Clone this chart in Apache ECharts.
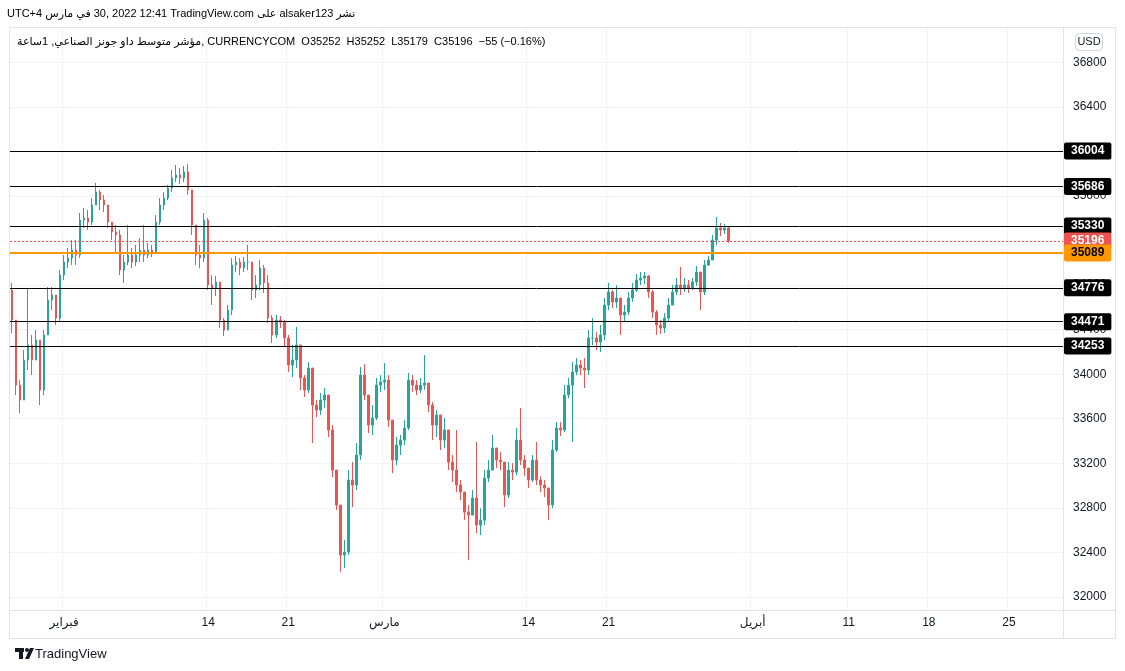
<!DOCTYPE html>
<html>
<head>
<meta charset="utf-8">
<script src="https://cdn.jsdelivr.net/npm/echarts@6/dist/echarts.min.js"></script>
<style>
  html, body { margin: 0; padding: 0; background: #fff; }
  #chart { width: 1125px; height: 671px; }
</style>
</head>
<body>
<div id="chart"></div>
<script>
const firstOpen = 34756
const closes = [
  34486, 33902, 33768, 34127, 34262, 34127, 34307, 33858, 34352, 34666,
  34711, 34504, 34890, 35007, 35043, 35115, 35070, 35384, 35402, 35366,
  35519, 35636, 35564, 35519, 35366, 35277, 35250, 34935, 35007, 35070,
  35007, 35070, 35115, 35070, 35115, 35097, 35366, 35519, 35582, 35672,
  35762, 35789, 35762, 35816, 35654, 35339, 35070, 35043, 35384, 34801,
  34774, 34828, 34486, 34396, 34576, 34980, 35007, 34953, 35007, 35007,
  34756, 34801, 34953, 34819, 34504, 34352, 34486, 34468, 34325, 34082,
  34127, 34262, 33966, 33858, 34055, 33723, 33678, 33768, 33813, 33499,
  33139, 32825, 32376, 32403, 33050, 33005, 33274, 33992, 33813, 33543,
  33606, 33902, 33930, 33947, 33588, 33229, 33364, 33409, 33517, 33947,
  33902, 33858, 33902, 33921, 33723, 33543, 33633, 33409, 33499, 33211,
  33139, 33005, 32942, 32762, 32735, 32888, 32646, 32690, 33067, 33139,
  33337, 33229, 33211, 32915, 33139, 33121, 33409, 33229, 33157, 33050,
  33229, 33050, 33005, 32978, 32825, 33319, 33517, 33499, 33813, 33902,
  34020, 34082, 34055, 34037, 34325, 34325, 34289, 34352, 34621, 34738,
  34648, 34684, 34531, 34558, 34684, 34756, 34846, 34864, 34882, 34738,
  34558, 34441, 34415, 34504, 34621, 34738, 34801, 34774, 34801, 34774,
  34828, 34917, 34738, 34980, 35025, 35205, 35313, 35295, 35313, 35196
]
const highs = [
  34819, 34396, 33947, 34217, 34774, 34352, 34396, 34262, 34396, 34783,
  34783, 34711, 34935, 35070, 35133, 35205, 35205, 35447, 35492, 35474,
  35582, 35717, 35654, 35609, 35519, 35366, 35339, 35295, 35070, 35339,
  35133, 35160, 35223, 35339, 35178, 35160, 35429, 35582, 35636, 35699,
  35833, 35878, 35851, 35869, 35887, 35654, 35339, 35160, 35447, 35402,
  34890, 34882, 34801, 34504, 34621, 35043, 35061, 35043, 35052, 35160,
  35007, 34890, 35025, 34980, 34890, 34531, 34531, 34522, 34486, 34352,
  34262, 34424, 34262, 33992, 34109, 34037, 33768, 33831, 33876, 33813,
  33543, 33139, 32825, 32511, 33139, 33211, 33382, 34064, 34091, 33813,
  33723, 33966, 33992, 34100, 33992, 33588, 33436, 33454, 33588, 34011,
  33992, 33947, 33966, 34172, 33902, 33750, 33678, 33633, 33606, 33499,
  33274, 33499, 33050, 32915, 32825, 32960, 33391, 32798, 33139, 33229,
  33454, 33337, 33301, 33211, 33211, 33202, 33517, 33696, 33274, 33157,
  33274, 33391, 33085, 33050, 32978, 33409, 33570, 33570, 33902, 33966,
  34109, 34145, 34127, 34145, 34396, 34504, 34378, 34441, 34684, 34819,
  34756, 34801, 34684, 34621, 34738, 34819, 34899, 34917, 34917, 34890,
  34756, 34576, 34486, 34549, 34684, 34801, 34864, 34962, 34864, 34846,
  34864, 34971, 34917, 35025, 35061, 35250, 35411, 35357, 35348, 35330
]
const lows = [
  34370, 33813, 33651, 33768, 34037, 33992, 34127, 33723, 33813, 34352,
  34576, 34441, 34468, 34846, 34953, 34980, 34980, 35043, 35313, 35295,
  35339, 35519, 35474, 35456, 35313, 35205, 35088, 34890, 34819, 34980,
  34953, 34971, 35007, 35007, 35043, 35052, 35079, 35339, 35474, 35564,
  35636, 35726, 35708, 35726, 35609, 35250, 34980, 34953, 35007, 34756,
  34621, 34702, 34415, 34343, 34396, 34531, 34917, 34890, 34917, 34935,
  34666, 34684, 34756, 34729, 34459, 34280, 34325, 34415, 34244, 34020,
  33974, 34055, 33858, 33795, 33831, 33382, 33615, 33633, 33696, 33436,
  33076, 32780, 32223, 32259, 32376, 32807, 32960, 33229, 33768, 33472,
  33454, 33588, 33840, 33858, 33526, 33112, 33184, 33274, 33364, 33499,
  33840, 33813, 33831, 33858, 33660, 33409, 33436, 33319, 33337, 33139,
  33032, 32942, 32870, 32690, 32331, 32735, 32574, 32556, 32646, 33032,
  33139, 33157, 33139, 32807, 32888, 33050, 33094, 33184, 33085, 32978,
  33032, 33005, 32942, 32897, 32690, 32798, 33301, 33445, 33481, 33786,
  33391, 33992, 33992, 33876, 33992, 34262, 34217, 34199, 34307, 34576,
  34594, 34594, 34352, 34468, 34531, 34648, 34738, 34801, 34810, 34684,
  34504, 34352, 34361, 34370, 34468, 34621, 34711, 34711, 34738, 34729,
  34756, 34792, 34576, 34711, 34971, 35043, 35160, 35241, 35259, 35179
]

const priceTicks = [32000, 32400, 32800, 33200, 33600, 34000, 34400, 34800, 35200, 35600, 36000, 36400, 36800]
const levels = [36004, 35686, 35330, 34776, 34471, 34253]
const orangeLevel = 35089
const lastPrice = 35196

const tickDates = ['2022-02-01', '2022-02-14', '2022-02-21', '2022-03-01', '2022-03-14', '2022-03-21', '2022-04-01', '2022-04-11', '2022-04-18', '2022-04-25']
const tickTexts = ['فبراير', '14', '21', 'مارس', '14', '21', 'أبريل', '11', '18', '25']

// trading-day calendar (weekends skipped), 4 slots a day
const slots = []
for (let t = Date.UTC(2022, 0, 26); t <= Date.UTC(2022, 3, 29); t += 864e5) {
  const d = new Date(t)
  if (d.getUTCDay() === 0 || d.getUTCDay() === 6) continue
  const s = d.toISOString().slice(0, 10)
  for (let k = 0; k < 4; k++) slots.push(s + ' ' + k)
}
const categories = slots.slice(3, 266)
const tickMap = {}
tickDates.forEach((d, i) => { tickMap[d + ' 0'] = tickTexts[i] })

const candles = closes.map((c, i) => {
  const o = i ? closes[i - 1] : firstOpen
  return [o, c, Math.min(lows[i], o, c), Math.max(highs[i], o, c)]
})

const FONT = 'Liberation Sans, DejaVu Sans, sans-serif'
const INK = '#131722'
const RED = '#ef5350'
const GREEN = '#26a69a'

const levelLabel = (bg, fg) => ({
  show: true,
  position: 'end',
  distance: 1,
  formatter: p => String(p.value),
  backgroundColor: bg,
  color: fg,
  fontFamily: FONT,
  fontSize: 12,
  fontWeight: 'bold',
  padding: [3, 7, 2, 7],
  borderRadius: 2
})

const lineData = levels.map(v => ({
  yAxis: v,
  lineStyle: { color: '#000', width: 1, type: 'solid' },
  label: levelLabel('#000', '#fff')
}))
lineData.push({
  yAxis: lastPrice,
  lineStyle: { color: RED, width: 1, type: [2, 2] },
  label: levelLabel(RED, '#fff')
})
lineData.push({
  yAxis: orangeLevel,
  lineStyle: { color: '#ff9800', width: 2, type: 'solid' },
  label: levelLabel('#ff9800', '#000')
})

const chart = echarts.init(document.getElementById('chart'))
const option = {
  animation: false,
  backgroundColor: '#fff',
  grid: { left: 10, right: 62, top: 28, bottom: 61 },
  xAxis: {
    type: 'category',
    data: categories,
    boundaryGap: true,
    axisLine: { show: false },
    axisTick: { show: false },
    axisLabel: {
      interval: 0,
      margin: 7,
      color: INK,
      fontFamily: FONT,
      fontSize: 12,
      formatter: v => tickMap[v] || ''
    },
    splitLine: {
      show: true,
      interval: (i, v) => !!tickMap[v],
      lineStyle: { color: '#f0f3fa', width: 1 }
    }
  },
  yAxis: {
    type: 'value',
    position: 'right',
    min: 31883,
    max: 37108,
    axisLine: { show: false },
    axisTick: { show: false, customValues: priceTicks },
    axisLabel: {
      customValues: priceTicks,
      margin: 10,
      color: INK,
      fontFamily: FONT,
      fontSize: 12,
      formatter: v => String(v)
    },
    splitLine: { show: true, lineStyle: { color: '#f0f3fa', width: 1 } }
  },
  series: [
    {
      type: 'candlestick',
      data: candles,
      barWidth: 2,
      itemStyle: {
        color: GREEN,
        color0: RED,
        borderColor: GREEN,
        borderColor0: RED,
        borderWidth: 1
      },
      markLine: {
        silent: true,
        symbol: 'none',
        animation: false,
        data: lineData
      }
    }
  ],
  graphic: [
    {
      type: 'rect', silent: true, z: 10,
      shape: { x: 9.5, y: 27.5, width: 1106, height: 611 },
      style: { fill: 'none', stroke: '#e0e3eb', lineWidth: 1 }
    },
    {
      type: 'line', silent: true, z: 10,
      shape: { x1: 1063.5, y1: 27.5, x2: 1063.5, y2: 638.5 },
      style: { stroke: '#e0e3eb', lineWidth: 1 }
    },
    {
      type: 'line', silent: true, z: 10,
      shape: { x1: 9.5, y1: 610.5, x2: 1115.5, y2: 610.5 },
      style: { stroke: '#e0e3eb', lineWidth: 1 }
    },
    {
      type: 'rect', silent: true, z: 10,
      shape: { x: 1075.5, y: 33.5, width: 27, height: 17, r: 4 },
      style: { fill: '#fff', stroke: '#d1d4dc', lineWidth: 1 }
    },
    {
      type: 'text', silent: true, z: 11,
      x: 1089, y: 42,
      style: { text: 'USD', fill: INK, font: '11px ' + FONT, textAlign: 'center', textVerticalAlign: 'middle' }
    },
    {
      type: 'text', silent: true, z: 11,
      x: 7, y: 14,
      style: {
        text: '{a|UTC+4 }{b|في مارس}{a| 30, 2022 12:41 TradingView.com }{c|على}{a| alsaker123 }{d|نشر}',
        textVerticalAlign: 'middle',
        rich: {
          a: { fontFamily: FONT, fontSize: 11, color: INK },
          b: { fontFamily: FONT, fontSize: 11, color: INK },
          c: { fontFamily: FONT, fontSize: 11, color: INK },
          d: { fontFamily: FONT, fontSize: 11, color: INK }
        }
      }
    },
    {
      type: 'text', silent: true, z: 11,
      x: 17, y: 42,
      style: {
        text: '{ar|مؤشر متوسط داو جونز الصناعي, 1ساعة}{k|, CURRENCYCOM  O}{r|35252}{k|  H}{r|35252}{k|  L}{r|35179}{k|  C}{r|35196}{r|  −55 (−0.16%)}',
        textVerticalAlign: 'middle',
        rich: {
          ar: { fontFamily: FONT, fontSize: 11, color: INK },
          k: { fontFamily: FONT, fontSize: 11, color: INK },
          r: { fontFamily: FONT, fontSize: 11, color: RED }
        }
      }
    },
    {
      type: 'group', silent: true, z: 11,
      children: [
        { type: 'rect', shape: { x: 15, y: 648, width: 9, height: 4 }, style: { fill: INK } },
        { type: 'rect', shape: { x: 19, y: 648, width: 4, height: 11 }, style: { fill: INK } },
        { type: 'circle', shape: { cx: 27, cy: 650, r: 2 }, style: { fill: INK } },
        { type: 'polygon', shape: { points: [[30, 648], [34, 648], [29, 659], [25, 659]] }, style: { fill: INK } }
      ]
    },
    {
      type: 'text', silent: true, z: 11,
      x: 35, y: 654,
      style: { text: 'TradingView', fill: INK, font: '13px ' + FONT, textVerticalAlign: 'middle' }
    }
  ]
}
chart.setOption(option)
window.addEventListener('resize', () => chart.resize())
</script>
</body>
</html>
